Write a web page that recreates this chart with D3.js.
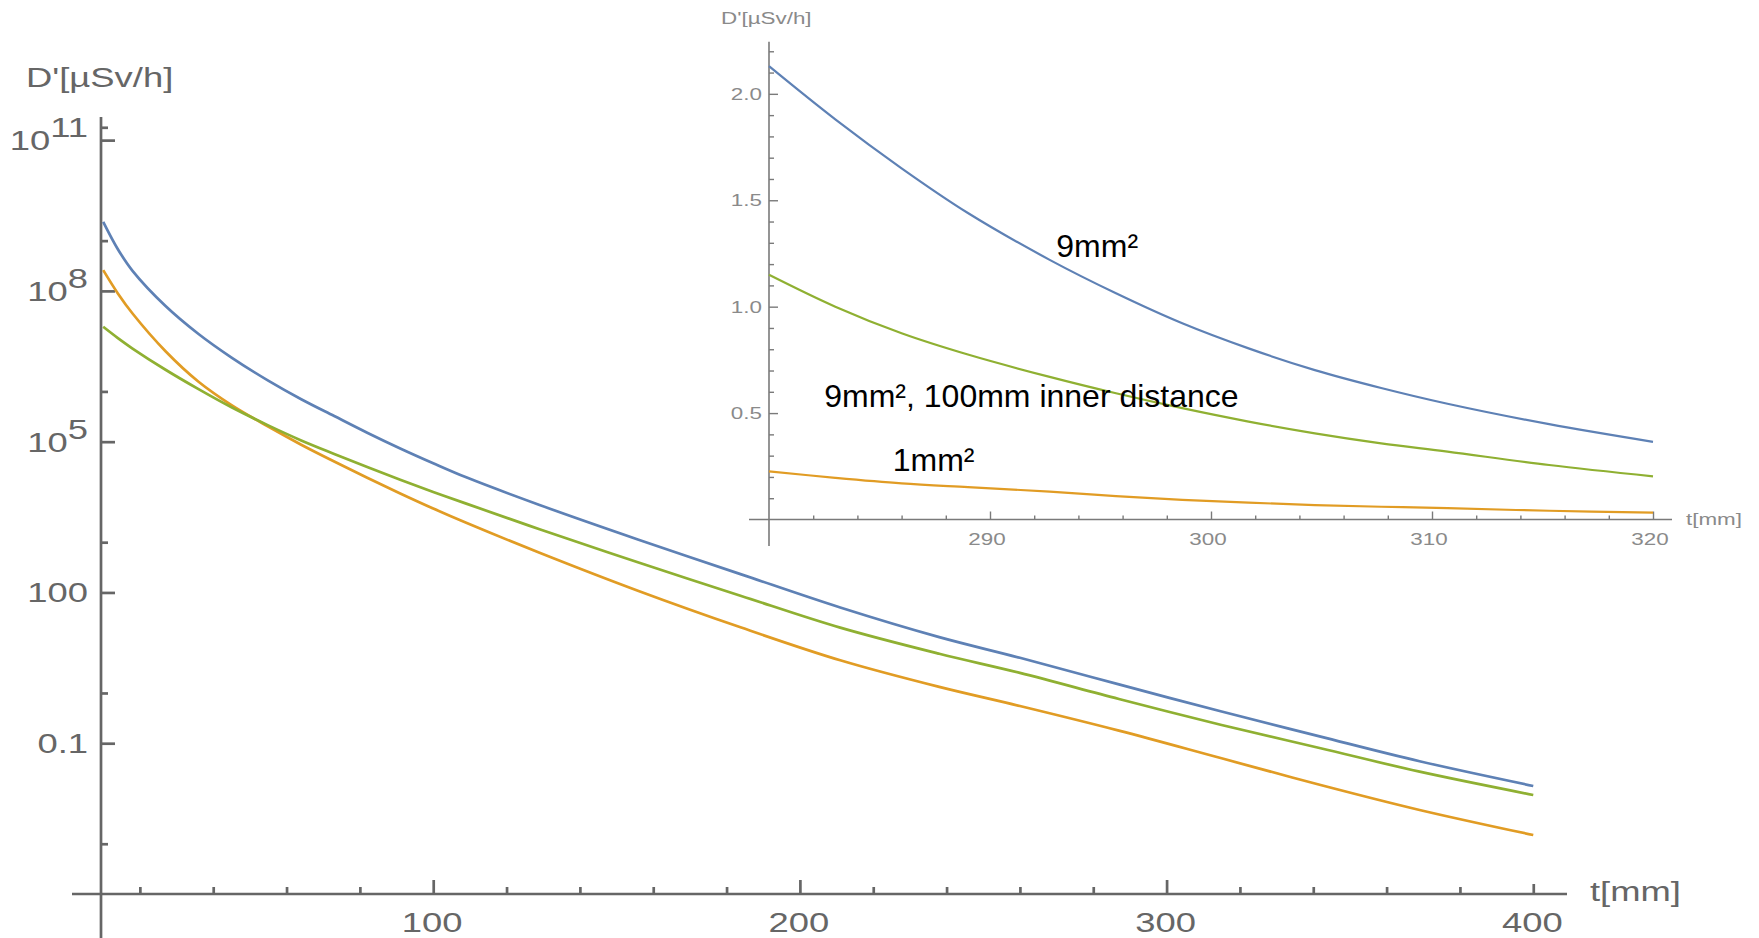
<!DOCTYPE html>
<html><head><meta charset="utf-8">
<script src="https://cdn.jsdelivr.net/npm/d3@7"></script>
<style>
body{margin:0;background:#fff}
svg{display:block}
text{font-family:"Liberation Sans",Arial,sans-serif}
</style>
</head><body>
<svg id="c" width="1759" height="938"></svg>
<script>
// ---------- main chart data (t in mm, D' in µSv/h, log scale) ----------
const tMain = [10,14,18,27,36,45,55,64,73,82,91,100,109,129,156,184,211,238,260,287,315,342,369,400];
const blueMain = [2.37e9,6.76e8,2.51e8,5.01e7,1.39e7,4.72e6,1.64e6,7.0e5,3.24e5,1.51e5,7.33e4,3.72e4,1.95e4,5.5e3,1.12e3,229,50.1,12.9,5.01,1.48,0.427,0.135,0.0437,0.0141];
const orangeMain = [2.59e8,8.91e7,3.55e7,6.31e6,1.56e6,5.35e5,2.0e5,8.71e4,4.03e4,1.91e4,9.33e3,4.68e3,2.43e3,617,107,20.0,4.47,1.32,0.55,0.178,0.0501,0.01476,0.0047,0.00149];
const greenMain = [1.93e7,1.15e7,7.14e6,2.7e6,1.11e6,4.83e5,2.11e5,1.06e5,5.71e4,3.13e4,1.75e4,1.0e4,5.85e3,1.81e3,394,85.3,19.95,6.03,2.51,0.759,0.231,0.0794,0.0272,0.00935];

const xMajorTicks = [100,200,300];
const xLabelValues = [100,200,300,400];
const xMajorLabels = ["100","200","300","400"];
const xMinorTicks = [20,40,60,80,120,140,160,180,220,240,260,280,320,340,360,380];
const yMajorTicks = [1e11,1e8,1e5,100,0.1];
const yMajorLabels = [["10","11"],["10","8"],["10","5"],["100",""],["0.1",""]];
const yMinorTicks = [1.8e11,1e9,1e6,1e3,1,1e-3];

// ---------- inset data (linear scale) ----------
const tInset = [280,283,286,289,292.7,295.7,298.7,301.7,304.7,307.7,310.7,315.3,320];
const blueInset = [2.13,1.88,1.65,1.44,1.22,1.063,0.922,0.804,0.702,0.618,0.544,0.448,0.365];
const greenInset = [1.15,1.00,0.875,0.775,0.67,0.593,0.523,0.46,0.405,0.358,0.319,0.256,0.203];
const orangeInset = [0.226,0.196,0.17,0.152,0.131,0.11,0.092,0.079,0.068,0.06,0.053,0.041,0.032];
const insetXMajor = [290,300,310,320];
const insetXMinor = [282,284,286,288,292,294,296,298,302,304,306,308,312,314,316,318];
const insetYMajor = [0.5,1.0,1.5,2.0];
const insetYMajorLabels = ["0.5","1.0","1.5","2.0"];
const insetYMinor = [0.1,0.2,0.3,0.4,0.6,0.7,0.8,0.9,1.1,1.2,1.3,1.4,1.6,1.7,1.8,1.9,2.1,2.2];

const annotations = [
  {text:"9mm²", t:293.0, v:1.234},
  {text:"9mm², 100mm inner distance", t:282.5, v:0.53},
  {text:"1mm²", t:285.6, v:0.227}
];

const colors = {blue:"#5E81B5", orange:"#E19C24", green:"#8FB032"};
const axisCol = "#666";

const svg = d3.select("#c");

// ---------- main chart ----------
const x = d3.scaleLinear().domain([9.4,409.2]).range([101,1567]);
const y = d3.scaleLog().domain([1e-4, Math.pow(10,11.46)]).range([894,117]);

const gMain = svg.append("g");
gMain.append("line").attr("x1",72).attr("x2",x(409.2)).attr("y1",y(1e-4)).attr("y2",y(1e-4))
  .attr("stroke",axisCol).attr("stroke-width",2.7);
gMain.append("line").attr("x1",x(9.4)).attr("x2",x(9.4)).attr("y1",y.range()[1]).attr("y2",938)
  .attr("stroke",axisCol).attr("stroke-width",2.7);

function styleAxis(g){ g.select(".domain").remove(); g.selectAll("line").attr("stroke",axisCol).attr("stroke-width",2.7); g.selectAll("text").remove(); }
gMain.append("g").attr("transform",`translate(0,${y(1e-4)})`)
  .call(d3.axisBottom(x).tickValues(xMajorTicks).tickSize(-14).tickSizeOuter(0)).call(styleAxis);
gMain.append("g").attr("transform",`translate(0,${y(1e-4)})`)
  .call(d3.axisBottom(x).tickValues(xMinorTicks).tickSize(-7).tickSizeOuter(0)).call(styleAxis);
gMain.append("g").attr("transform",`translate(0,${y(1e-4)})`)
  .call(d3.axisBottom(x).tickValues([400]).tickSize(-10).tickSizeOuter(0)).call(styleAxis);
gMain.append("g").attr("transform",`translate(${x(9.4)},0)`)
  .call(d3.axisLeft(y).tickValues(yMajorTicks).tickSize(-14).tickSizeOuter(0)).call(styleAxis);
gMain.append("g").attr("transform",`translate(${x(9.4)},0)`)
  .call(d3.axisLeft(y).tickValues(yMinorTicks).tickSize(-7).tickSizeOuter(0)).call(styleAxis);

const labCol = "#666";
xLabelValues.forEach((v,i)=>{
  svg.append("text").attr("transform",`translate(${x(v)-1},932) scale(1.3,1)`)
    .attr("text-anchor","middle").attr("font-size",28).attr("fill",labCol).text(xMajorLabels[i]);
});
yMajorTicks.forEach((v,i)=>{
  const t = svg.append("text").attr("transform",`translate(88,${y(v)+10}) scale(1.3,1)`)
    .attr("text-anchor","end").attr("font-size",28).attr("fill",labCol);
  t.append("tspan").text(yMajorLabels[i][0]);
  if (yMajorLabels[i][1]) t.append("tspan").attr("dy",-13).text(yMajorLabels[i][1]);
});
svg.append("text").attr("transform","translate(26,87) scale(1.3,1)")
  .attr("font-size",28).attr("fill",labCol).text("D'[µSv/h]");
svg.append("text").attr("transform","translate(1590,901) scale(1.3,1)")
  .attr("font-size",28).attr("fill",labCol).text("t[mm]");

const lineMain = d3.line().x(d=>x(d[0])).y(d=>y(d[1])).curve(d3.curveCatmullRom.alpha(0.5));
[["blue",blueMain],["orange",orangeMain],["green",greenMain]].forEach(([c,vals])=>{
  gMain.append("path").datum(tMain.map((t,i)=>[t,vals[i]]))
    .attr("d",lineMain).attr("fill","none").attr("stroke",colors[c]).attr("stroke-width",2.7);
});

// ---------- inset ----------
const xi = d3.scaleLinear().domain([280,320]).range([769,1653]);
const yi = d3.scaleLinear().domain([0,2.245]).range([519.5,41.7]);
const insCol = "#7a7a7a";
const gIn = svg.append("g");
gIn.append("line").attr("x1",749).attr("x2",1672).attr("y1",yi(0)).attr("y2",yi(0))
  .attr("stroke",insCol).attr("stroke-width",1.6);
gIn.append("line").attr("x1",xi(280)).attr("x2",xi(280)).attr("y1",yi(2.245)).attr("y2",546)
  .attr("stroke",insCol).attr("stroke-width",1.6);
function styleIn(g){ g.select(".domain").remove(); g.selectAll("line").attr("stroke",insCol).attr("stroke-width",1.4); g.selectAll("text").remove(); }
gIn.append("g").attr("transform",`translate(0,${yi(0)})`)
  .call(d3.axisBottom(xi).tickValues(insetXMajor).tickSize(-8).tickSizeOuter(0)).call(styleIn);
gIn.append("g").attr("transform",`translate(0,${yi(0)})`)
  .call(d3.axisBottom(xi).tickValues(insetXMinor).tickSize(-4).tickSizeOuter(0)).call(styleIn);
gIn.append("g").attr("transform",`translate(${xi(280)},0)`)
  .call(d3.axisLeft(yi).tickValues(insetYMajor).tickSize(-9).tickSizeOuter(0)).call(styleIn);
gIn.append("g").attr("transform",`translate(${xi(280)},0)`)
  .call(d3.axisLeft(yi).tickValues(insetYMinor).tickSize(-5).tickSizeOuter(0)).call(styleIn);

const insLab = "#8a8a8a";
insetYMajor.forEach((v,i)=>{
  svg.append("text").attr("transform",`translate(762,${yi(v)+6}) scale(1.4,1)`)
    .attr("text-anchor","end").attr("font-size",16).attr("fill",insLab).text(insetYMajorLabels[i]);
});
insetXMajor.forEach(v=>{
  svg.append("text").attr("transform",`translate(${xi(v)-3},545) scale(1.4,1)`)
    .attr("text-anchor","middle").attr("font-size",16).attr("fill",insLab).text(String(v));
});
svg.append("text").attr("transform","translate(721,24) scale(1.4,1)")
  .attr("font-size",16).attr("fill",insLab).text("D'[µSv/h]");
svg.append("text").attr("transform","translate(1686,525) scale(1.4,1)")
  .attr("font-size",16).attr("fill",insLab).text("t[mm]");

const lineIn = d3.line().x(d=>xi(d[0])).y(d=>yi(d[1])).curve(d3.curveCatmullRom.alpha(0.5));
[["blue",blueInset],["orange",orangeInset],["green",greenInset]].forEach(([c,vals])=>{
  gIn.append("path").datum(tInset.map((t,i)=>[t,vals[i]]))
    .attr("d",lineIn).attr("fill","none").attr("stroke",colors[c]).attr("stroke-width",2.2);
});

annotations.forEach(a=>{
  svg.append("text").attr("x",xi(a.t)).attr("y",yi(a.v)).attr("font-size",32).attr("fill","#000").text(a.text);
});
</script>
</body></html>
